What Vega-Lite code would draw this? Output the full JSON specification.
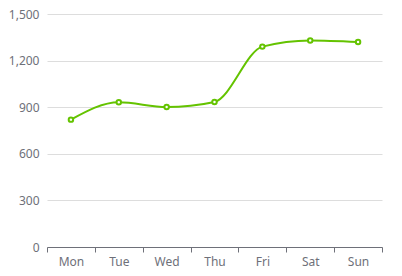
{
  "$schema": "https://vega.github.io/schema/vega-lite/v6.json",
  "width": 335,
  "height": 233,
  "autosize": {"type": "none"},
  "padding": {"left": 47, "top": 14, "right": 20, "bottom": 29},
  "background": "#ffffff",
  "config": {
    "view": {"stroke": null},
    "font": "Noto Sans",
    "axis": {"labelFont": "Noto Sans", "labelFontSize": 12, "labelColor": "#6e7079"}
  },
  "data": {
    "values": [
      {"day": "Mon", "value": 820},
      {"day": "Tue", "value": 932},
      {"day": "Wed", "value": 901},
      {"day": "Thu", "value": 934},
      {"day": "Fri", "value": 1290},
      {"day": "Sat", "value": 1330},
      {"day": "Sun", "value": 1320}
    ]
  },
  "encoding": {
    "x": {
      "field": "day",
      "type": "nominal",
      "sort": null,
      "scale": {"type": "band", "paddingInner": 0, "paddingOuter": 0},
      "axis": {
        "title": null,
        "labelAngle": 0,
        "tickBand": "extent",
        "grid": false,
        "domainColor": "#6e7079",
        "tickColor": "#6e7079",
        "tickSize": 5,
        "labelPadding": 4
      }
    },
    "y": {
      "field": "value",
      "type": "quantitative",
      "scale": {"domain": [0, 1500], "nice": false},
      "axis": {
        "title": null,
        "values": [0, 300, 600, 900, 1200, 1500],
        "format": ",d",
        "domain": false,
        "ticks": false,
        "gridColor": "#dddddd",
        "labelPadding": 8
      }
    }
  },
  "layer": [
    {
      "mark": {"type": "line", "interpolate": "monotone", "color": "#64c300", "strokeWidth": 2}
    },
    {
      "mark": {"type": "point", "shape": "circle", "filled": true, "fill": "#ffffff", "stroke": "#64c300", "strokeWidth": 2, "size": 20, "opacity": 1}
    }
  ]
}
